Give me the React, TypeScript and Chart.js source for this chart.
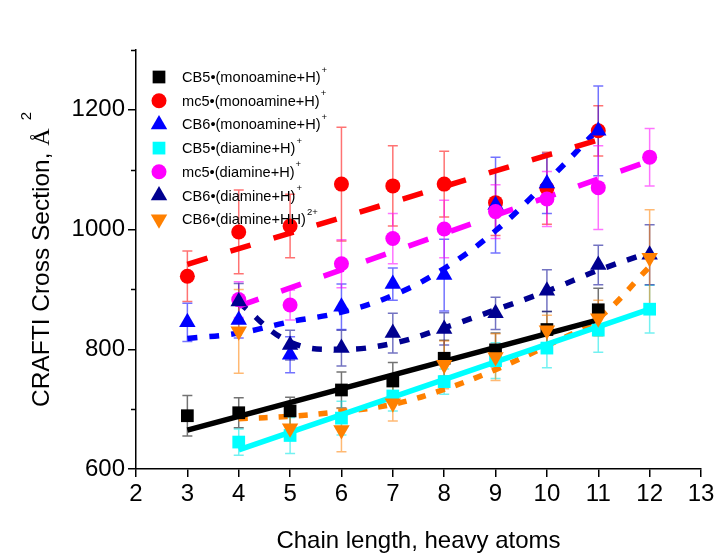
import React, { useEffect, useRef } from 'react';
import { Chart, registerables } from 'chart.js';

Chart.register(...registerables);

// ---------- data ----------
const xTicks = [2, 3, 4, 5, 6, 7, 8, 9, 10, 11, 12, 13];
const yMajorTicks = [600, 800, 1000, 1200];
const yMinorTicks = [700, 900, 1100, 1300];

const xTitle = 'Chain length, heavy atoms';
const yTitleMain = 'CRAFTI Cross Section, ';
const yTitleUnit = 'Å';
const yTitleSup = '2';

const seriesLabels = [
  'CB5•(monoamine+H)',
  'mc5•(monoamine+H)',
  'CB6•(monoamine+H)',
  'CB5•(diamine+H)',
  'mc5•(diamine+H)',
  'CB6•(diamine+H)',
  'CB6•(diamine+HH)',
];
const seriesSup = ['+', '+', '+', '+', '+', '+', '2+'];

const cb5MonoX = [3, 4, 5, 6, 7, 8, 9, 10, 11];
const cb5MonoY = [689, 694, 697, 732, 747, 785, 799, 833, 866];
const cb5MonoErr = [34, 25, 23, 30, 31, 30, 28, 30, 36];

const mc5MonoX = [3, 4, 5, 6, 7, 8, 9, 10, 11];
const mc5MonoY = [922, 996, 1006, 1076, 1073, 1076, 1045, 1069, 1165];
const mc5MonoErr = [42, 70, 53, 95, 67, 55, 55, 60, 42];

const cb6MonoX = [3, 4, 5, 6, 7, 8, 9, 10, 11];
const cb6MonoY = [845, 849, 791, 871, 909, 924, 1041, 1077, 1165];
const cb6MonoErr = [32, 30, 30, 38, 27, 60, 80, 50, 75];

const cb5DiX = [4, 5, 6, 7, 8, 9, 10, 11, 12];
const cb5DiY = [645, 656, 685, 722, 746, 781, 802, 832, 867];
const cb5DiErr = [22, 30, 28, 25, 21, 30, 33, 37, 40];

const mc5DiX = [4, 5, 6, 7, 8, 9, 10, 11, 12];
const mc5DiY = [883, 874, 943, 985, 1001, 1030, 1051, 1070, 1121];
const mc5DiErr = [30, 25, 40, 42, 48, 45, 46, 70, 48];

const cb6DiX = [4, 5, 6, 7, 8, 9, 10, 11, 12];
const cb6DiY = [880, 807, 802, 827, 834, 860, 898, 941, 958];
const cb6DiErr = [30, 25, 30, 33, 27, 27, 35, 33, 50];

const cb6HHX = [4, 5, 6, 7, 8, 9, 10, 11, 12];
const cb6HHY = [830, 668, 665, 710, 774, 787, 832, 852, 953];
const cb6HHErr = [70, 20, 36, 30, 40, 39, 25, 30, 80];

// fit curves
const cb5MonoFitX = [3, 11];
const cb5MonoFitY = [665, 849];
const mc5MonoFitX = [3, 11];
const mc5MonoFitY = [942, 1150];
const cb6MonoFitX = [3, 4, 5, 6, 7, 8, 9, 10, 11];
const cb6MonoFitY = [818, 827, 846, 862, 890, 935, 998, 1080, 1168];
const cb5DiFitX = [4, 12];
const cb5DiFitY = [632, 867];
const mc5DiFitX = [4, 12];
const mc5DiFitY = [872, 1115];
const cb6DiFitX = [4, 5, 6, 7, 8, 9, 10, 11, 12];
const cb6DiFitY = [878, 812, 800, 810, 836, 866, 897, 932, 962];
const cb6HHFitX = [4, 5, 6, 7, 8, 9, 10, 11, 12];
const cb6HHFitY = [684, 688, 696, 708, 733, 766, 806, 852, 938];

// ---------- styling ----------
const FONT = '"Liberation Sans", Arial, Helvetica, sans-serif';
const SERIF = '"Liberation Serif", "Times New Roman", serif';

type Shape = 'square' | 'circle' | 'triangle' | 'down';
interface Series {
  x: number[];
  y: number[];
  err: number[];
  color: string;
  rgb: string;
  shape: Shape;
  radius: number;
}

const series: Series[] = [
  { x: cb5MonoX, y: cb5MonoY, err: cb5MonoErr, color: '#000000', rgb: '0,0,0', shape: 'square', radius: 9 },
  { x: mc5MonoX, y: mc5MonoY, err: mc5MonoErr, color: '#FF0000', rgb: '255,0,0', shape: 'circle', radius: 7.5 },
  { x: cb6MonoX, y: cb6MonoY, err: cb6MonoErr, color: '#0000FF', rgb: '0,0,255', shape: 'triangle', radius: 9.5 },
  { x: cb5DiX, y: cb5DiY, err: cb5DiErr, color: '#00FFFF', rgb: '0,230,230', shape: 'square', radius: 9 },
  { x: mc5DiX, y: mc5DiY, err: mc5DiErr, color: '#FF00FF', rgb: '255,0,255', shape: 'circle', radius: 7.5 },
  { x: cb6DiX, y: cb6DiY, err: cb6DiErr, color: '#000090', rgb: '0,0,144', shape: 'triangle', radius: 9.5 },
  { x: cb6HHX, y: cb6HHY, err: cb6HHErr, color: '#FF8000', rgb: '255,128,0', shape: 'down', radius: 9.5 },
];

interface Fit {
  x: number[];
  y: number[];
  color: string;
  dash: number[];
  tension: number;
}

const fits: Fit[] = [
  { x: cb5MonoFitX, y: cb5MonoFitY, color: '#000000', dash: [], tension: 0 },
  { x: mc5MonoFitX, y: mc5MonoFitY, color: '#FF0000', dash: [21, 24], tension: 0 },
  { x: cb6MonoFitX, y: cb6MonoFitY, color: '#0000FF', dash: [10, 12], tension: 0.4 },
  { x: cb5DiFitX, y: cb5DiFitY, color: '#00FFFF', dash: [], tension: 0 },
  { x: mc5DiFitX, y: mc5DiFitY, color: '#FF00FF', dash: [21, 24], tension: 0 },
  { x: cb6DiFitX, y: cb6DiFitY, color: '#000090', dash: [10, 12], tension: 0.4 },
  { x: cb6HHFitX, y: cb6HHFitY, color: '#FF8000', dash: [9, 11], tension: 0.4 },
];

function toPoints(xs: number[], ys: number[]) {
  return xs.map((x, i) => ({ x, y: ys[i] }));
}

function drawMarker(ctx: CanvasRenderingContext2D, shape: Shape, x: number, y: number, r: number, color: string) {
  ctx.save();
  ctx.fillStyle = color;
  ctx.beginPath();
  if (shape === 'square') {
    const s = r * Math.SQRT1_2;
    ctx.rect(x - s, y - s, 2 * s, 2 * s);
  } else if (shape === 'circle') {
    ctx.arc(x, y, r, 0, Math.PI * 2);
  } else {
    const dir = shape === 'triangle' ? 1 : -1;
    ctx.moveTo(x, y - dir * r);
    ctx.lineTo(x + Math.sin((2 * Math.PI) / 3) * r, y + dir * r * 0.5);
    ctx.lineTo(x - Math.sin((2 * Math.PI) / 3) * r, y + dir * r * 0.5);
    ctx.closePath();
  }
  ctx.fill();
  ctx.restore();
}

const errorBarPlugin = {
  id: 'errorBars',
  beforeDatasetsDraw(chart: any) {
    const { ctx, scales } = chart;
    const xs = scales.x;
    const ys = scales.y;
    ctx.save();
    ctx.lineWidth = 1.5;
    series.forEach((s) => {
      ctx.strokeStyle = `rgba(${s.rgb},0.55)`;
      s.x.forEach((xv, i) => {
        const px = xs.getPixelForValue(xv);
        const top = ys.getPixelForValue(s.y[i] + s.err[i]);
        const bot = ys.getPixelForValue(s.y[i] - s.err[i]);
        ctx.beginPath();
        ctx.moveTo(px, top);
        ctx.lineTo(px, bot);
        ctx.moveTo(px - 5, top);
        ctx.lineTo(px + 5, top);
        ctx.moveTo(px - 5, bot);
        ctx.lineTo(px + 5, bot);
        ctx.stroke();
      });
    });
    ctx.restore();
  },
};

const minorTickPlugin = {
  id: 'minorTicks',
  afterDraw(chart: any) {
    const { ctx, scales, chartArea } = chart;
    ctx.save();
    ctx.strokeStyle = '#000';
    ctx.lineWidth = 1.5;
    yMinorTicks.forEach((v) => {
      const py = Math.round(scales.y.getPixelForValue(v)) + 0.5;
      ctx.beginPath();
      ctx.moveTo(chartArea.left - 5, py);
      ctx.lineTo(chartArea.left, py);
      ctx.stroke();
    });
    ctx.restore();
  },
};

const yTitlePlugin = {
  id: 'yTitle',
  afterDraw(chart: any) {
    const { ctx, chartArea } = chart;
    ctx.save();
    ctx.fillStyle = '#000';
    ctx.textBaseline = 'alphabetic';
    ctx.textAlign = 'left';
    ctx.font = `24.5px ${FONT}`;
    const mainW = ctx.measureText(yTitleMain).width;
    ctx.font = `24px ${SERIF}`;
    const unitW = ctx.measureText(yTitleUnit).width;
    ctx.font = `15px ${FONT}`;
    const supW = ctx.measureText(yTitleSup).width;
    const total = mainW + unitW + 8 + supW;
    const cy = (chartArea.top + chartArea.bottom) / 2;
    ctx.translate(49, cy + total / 2);
    ctx.rotate(-Math.PI / 2);
    ctx.font = `24.5px ${FONT}`;
    ctx.fillText(yTitleMain, 0, 0);
    ctx.font = `24px ${SERIF}`;
    ctx.fillText(yTitleUnit, mainW, 0);
    ctx.font = `15px ${FONT}`;
    ctx.fillText(yTitleSup, mainW + unitW + 8, -18);
    ctx.restore();
  },
};

const legendPlugin = {
  id: 'customLegend',
  afterDraw(chart: any) {
    const { ctx } = chart;
    const markerX = 159;
    const textX = 182;
    const startY = 77;
    const step = 23.7;
    ctx.save();
    seriesLabels.forEach((label, i) => {
      const y = startY + i * step;
      const s = series[i];
      drawMarker(ctx, s.shape, markerX, y, s.radius, s.color);
      ctx.fillStyle = '#000';
      ctx.textBaseline = 'middle';
      ctx.textAlign = 'left';
      ctx.font = `14.6px ${FONT}`;
      ctx.fillText(label, textX, y + 1);
      const w = ctx.measureText(label).width;
      ctx.font = `9.5px ${FONT}`;
      ctx.fillText(seriesSup[i], textX + w + 1, y - 7);
    });
    ctx.restore();
  },
};

export default function App() {
  const canvasRef = useRef<HTMLCanvasElement | null>(null);

  useEffect(() => {
    if (!canvasRef.current) return;
    const pointDatasets = series
      .map((s) => ({
        type: 'scatter' as const,
        data: toPoints(s.x, s.y),
        showLine: false,
        pointStyle: s.shape === 'square' ? 'rect' : s.shape === 'circle' ? 'circle' : 'triangle',
        rotation: s.shape === 'down' ? 180 : 0,
        pointRotation: s.shape === 'down' ? 180 : 0,
        radius: s.radius,
        pointRadius: s.radius,
        pointHoverRadius: s.radius,
        backgroundColor: s.color,
        borderColor: s.color,
        pointBorderWidth: 0,
        borderWidth: 0,
      }))
      .reverse();
    const lineDatasets = fits.map((f) => ({
      type: 'scatter' as const,
      data: toPoints(f.x, f.y),
      showLine: true,
      pointRadius: 0,
      pointHoverRadius: 0,
      borderColor: f.color,
      backgroundColor: f.color,
      borderWidth: 5.5,
      borderDash: f.dash,
      borderCapStyle: 'butt',
      tension: f.tension,
      fill: false,
    }));

    const chart = new Chart(canvasRef.current, {
      type: 'scatter',
      data: { datasets: [...pointDatasets, ...lineDatasets] as any },
      options: {
        animation: false,
        responsive: false,
        devicePixelRatio: 1,
        events: [],
        layout: { padding: { top: 50, right: 19, left: 0, bottom: 0 } },
        plugins: {
          legend: { display: false },
          tooltip: { enabled: false },
        },
        scales: {
          x: {
            type: 'linear',
            min: 2,
            max: 13,
            afterBuildTicks: (s: any) => {
              s.ticks = xTicks.map((v) => ({ value: v }));
            },
            afterFit: (s: any) => {
              s.height = 87;
              s.paddingLeft = 0;
              s.paddingRight = 0;
            },
            grid: {
              drawOnChartArea: false,
              drawTicks: true,
              tickLength: 8,
              color: '#000',
              lineWidth: 1.5,
            },
            border: { display: true, color: '#000', width: 1.5 },
            ticks: {
              font: { size: 24, family: FONT },
              color: '#000',
              padding: 3,
              maxRotation: 0,
              autoSkip: false,
              callback: (v: any) => String(v),
            },
            title: {
              display: true,
              text: xTitle,
              font: { size: 24, family: FONT },
              color: '#000',
              padding: { top: 0, bottom: 0 },
            },
          },
          y: {
            type: 'linear',
            min: 600,
            max: 1300,
            afterBuildTicks: (s: any) => {
              s.ticks = yMajorTicks.map((v) => ({ value: v }));
            },
            afterFit: (s: any) => {
              s.width = 136;
              s.paddingTop = 0;
              s.paddingBottom = 0;
            },
            grid: {
              drawOnChartArea: false,
              drawTicks: true,
              tickLength: 8,
              color: '#000',
              lineWidth: 1.5,
            },
            border: { display: true, color: '#000', width: 1.5 },
            ticks: {
              font: { size: 24, family: FONT },
              color: '#000',
              padding: 3,
              autoSkip: false,
              callback: (v: any) => String(v),
            },
            title: { display: false },
          },
        },
      },
      plugins: [errorBarPlugin, minorTickPlugin, yTitlePlugin, legendPlugin],
    } as any);

    return () => {
      chart.destroy();
    };
  }, []);

  return (
    <div style={{ position: 'fixed', left: 0, top: 0, width: 720, height: 556, background: '#fff' }}>
      <canvas ref={canvasRef} width={720} height={556} style={{ display: 'block', width: 720, height: 556 }} />
    </div>
  );
}
